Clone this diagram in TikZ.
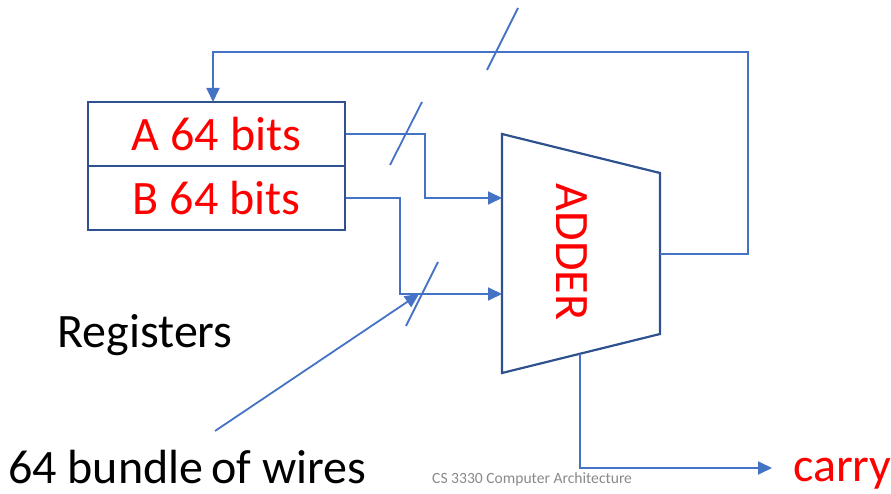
\documentclass[tikz,border=0pt]{standalone}
\usepackage{fontspec}
\setmainfont{Carlito}
\usetikzlibrary{arrows.meta}
\definecolor{wireblue}{HTML}{4472C4}
\definecolor{boxblue}{HTML}{2F528F}
\definecolor{txtred}{HTML}{FF0000}
\definecolor{footgray}{HTML}{898989}
\begin{document}
\begin{tikzpicture}[x=1pt,y=-1pt,
 wire/.style={draw=wireblue,line width=1.8pt},
 arr/.style={wire,-{Triangle[length=14pt,width=13pt]}},
 reg/.style={draw=boxblue,line width=2.2pt,minimum width=257pt,minimum height=64pt,inner sep=0pt,font=\fontsize{48}{48}\selectfont,text=txtred},
 big/.style={font=\fontsize{48}{48}\selectfont,inner sep=0pt}]
\useasboundingbox (0,0) rectangle (891,494);
% registers
\node[reg] (A) at (216.5,134) {A 64 bits};
\node[reg] (B) at (216.5,198) {B 64 bits};
% adder
\coordinate (tl) at (502,134);
\coordinate (tr) at (660,173);
\coordinate (br) at (660,334);
\coordinate (bl) at (502,373);
\draw[draw=boxblue,line width=2.2pt] (tl) -- (tr) -- (br) -- (bl) -- cycle;
\node[big,text=txtred,rotate=-90] (adder) at (572,252) {ADDER};
\coordinate (inA) at (502,198);
\coordinate (inB) at (502,294);
\coordinate (outR) at (660,254);
\coordinate (outC) at (580,354);
% feedback
\coordinate (fb1) at (748,254);
\coordinate (fb2) at (748,52);
\coordinate (fb3) at (213,52);
\coordinate (fbin) at (213,102);
\draw[arr] (outR) -- (fb1) -- (fb2) -- (fb3) -- (fbin);
% inputs
\draw[arr] (A.east) -- (425,134) |- (inA);
\draw[arr] (B.east) -- (400,198) |- (inB);
% carry
\node[big,text=txtred,anchor=base west] (carry) at (793,481) {carry};
\coordinate (cy1) at (580,468);
\coordinate (cyend) at (772,468);
\draw[arr] (outC) -- (cy1) -- (cyend);
% bus slashes
\coordinate (s1a) at (487,70); \coordinate (s1b) at (518,8);
\coordinate (s2a) at (390,165); \coordinate (s2b) at (422,102);
\coordinate (s3a) at (406,326); \coordinate (s3b) at (438,262);
\draw[wire] (s1a) -- (s1b);
\draw[wire] (s2a) -- (s2b);
\draw[wire] (s3a) -- (s3b);
% labels
\node[big,anchor=base] (regs) at (145,347) {Registers};
\node[big,anchor=base west] (bundle) at (8,483) {64 bundle\kern-3pt{} of wires};
\coordinate (ptr) at (215,431);
\coordinate (ptrend) at (419,294);
\draw[arr] (ptr) -- (ptrend);
\node[anchor=base west,inner sep=0pt,text=footgray,font=\fontsize{15.6}{16}\selectfont] (foot) at (432,483) {CS 3330 Computer Architecture};
\end{tikzpicture}
\end{document}
